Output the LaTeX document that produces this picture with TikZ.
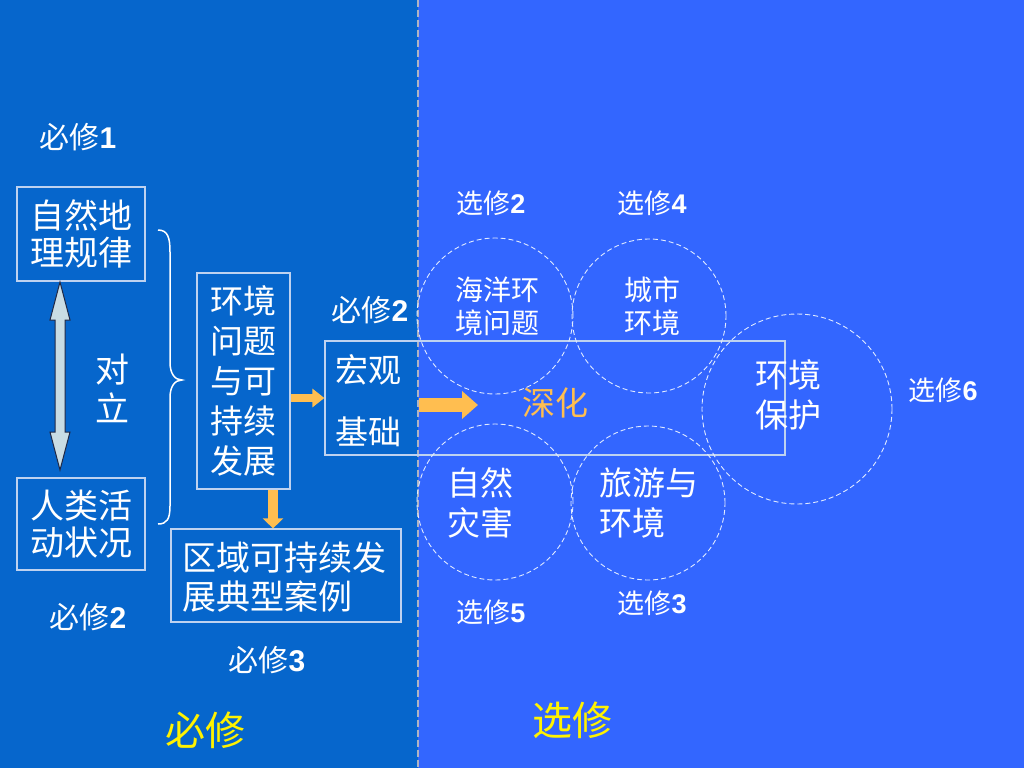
\documentclass[tikz,border=0pt]{standalone}
\usepackage{fontspec}
\setmainfont{Liberation Sans}
\newfontfamily\cjk{Noto Sans CJK SC}
\usetikzlibrary{arrows.meta,calc}
\definecolor{leftbg}{RGB}{6,102,204}
\definecolor{rightbg}{RGB}{51,102,255}
\definecolor{boxline}{RGB}{190,210,240}
\definecolor{circline}{RGB}{225,235,255}
\definecolor{vlinec}{RGB}{175,180,195}
\definecolor{orangec}{RGB}{255,190,80}
\definecolor{darrowfill}{RGB}{200,220,228}
\definecolor{darrowline}{RGB}{30,40,70}
\newcommand\xiulbl[2]{{\cjk #1}\textbf{#2}}
\begin{document}
\begin{tikzpicture}[x=1pt,y=-1pt,
  framebox/.style={draw=boxline, line width=1.2pt, inner sep=0pt, text=white, align=center},
  wtxt/.style={text=white, inner sep=0pt},
  big/.style={font=\fontsize{34}{37}\selectfont\cjk},
  lbl/.style={text=white, inner sep=0pt, font=\fontsize{30}{32}\selectfont},
  slbl/.style={text=white, inner sep=0pt, font=\fontsize{27}{30}\selectfont},
  ylbl/.style={text=yellow, inner sep=0pt, font=\fontsize{40}{42}\selectfont\cjk},
  dcirc/.style={draw=circline, dash pattern=on 5pt off 3pt, line width=0.9pt, circle, inner sep=0pt},
]
\useasboundingbox (0,0) rectangle (1024,768);
\fill[leftbg] (0,0) rectangle (418,768);
\fill[rightbg] (418,0) rectangle (1024,768);
\draw[vlinec, line width=2pt, dash pattern=on 7pt off 3pt] (418,0) -- (418,768);

% left boxes
\node[framebox, big, minimum width=128pt, minimum height=94pt] (A) at (81,234) {自然地\\理规律};
\node[framebox, big, minimum width=128pt, minimum height=92pt] (B) at (81,524) {人类活\\动状况};
\node[wtxt, big] (dui) at (112,370) {对};
\node[wtxt, big] (li) at (112,408) {立};

% double arrow
\coordinate (t1) at (60,282);
\coordinate (t2) at (60,470);
\draw[fill=darrowfill, draw=darrowline, line width=1pt]
  (t1) -- ++(10,38) -- ++(-5,0) -- ($(t2)+(5,-38)$) -- ++(5,0) -- (t2)
  -- ++(-10,-38) -- ++(5,0) -- ($(t1)+(-5,38)$) -- ++(-5,0) -- cycle;

% brace
\draw[white, line width=1.5pt] (158,230) .. controls (168,230) and (170,238) .. (170,252)
  -- (170,362) .. controls (170,374) and (175,380) .. (182,380)
  .. controls (175,380) and (170,386) .. (170,398)
  -- (170,506) .. controls (170,519) and (167,524) .. (158,524);

\node[framebox, font=\fontsize{33}{40}\selectfont\cjk, minimum width=93pt, minimum height=216pt] (C) at (243.5,381) {环境\\问题\\与可\\持续\\发展};
\node[framebox, minimum width=230pt, minimum height=93pt] (E) at (286,575.5) {};
\node[wtxt, font=\fontsize{34}{39}\selectfont\cjk, align=left, anchor=west] (Et) at (182,577.5) {区域可持续发\\展典型案例};

% box D across the divide
\node[framebox, minimum width=460pt, minimum height=114pt] (D) at (555,398) {};
\node[wtxt, font=\fontsize{33}{62}\selectfont\cjk, align=center] (Dt) at (368,401) {宏观\\基础};

% orange arrows
\draw[orangec, line width=8pt, -{Triangle[length=12pt,width=18pt]}] (C.east |- D.west) -- (D.west);
\coordinate (ax) at (273,0);
\draw[orangec, line width=10pt, -{Triangle[length=10pt,width=20pt]}] (C.south -| ax) -- (E.north -| ax);
\coordinate (bs) at (419,405);
\coordinate (be) at (478,405);
\draw[orangec, line width=14pt, -{Triangle[length=16pt,width=27pt]}] (bs) -- (be);
\node[inner sep=0pt, text=orangec, font=\fontsize{33}{37}\selectfont\cjk] (shen) at (555,403) {深化};

% circles
\node[dcirc, minimum size=156pt] (c1) at (495,316) {};
\node[dcirc, minimum size=154pt] (c2) at (649,316) {};
\node[dcirc, minimum size=190pt] (c3) at (797,409) {};
\node[dcirc, minimum size=156pt] (c4) at (495,502) {};
\node[dcirc, minimum size=154pt] (c5) at (648,503) {};

\node[wtxt, font=\fontsize{28}{33}\selectfont\cjk, align=center] (c1t) at (497,306) {海洋环\\境问题};
\node[wtxt, font=\fontsize{28}{33}\selectfont\cjk, align=center] (c2t) at (652,306) {城市\\环境};
\node[wtxt, font=\fontsize{33}{40}\selectfont\cjk, align=center] (c3t) at (788,395) {环境\\保护};
\node[wtxt, font=\fontsize{33}{40}\selectfont\cjk, align=center] (c4t) at (480,503) {自然\\灾害};
\node[wtxt, font=\fontsize{33}{40}\selectfont\cjk, align=left, anchor=west] (c5t) at (599,503) {旅游与\\环境};

% labels
\node[lbl] (l1) at (78,137) {\xiulbl{必修}{1}};
\node[lbl] (l2) at (88,617) {\xiulbl{必修}{2}};
\node[lbl] (l3) at (370,310) {\xiulbl{必修}{2}};
\node[lbl] (l4) at (267,660) {\xiulbl{必修}{3}};
\node[slbl] (s2) at (491,203) {\xiulbl{选修}{2}};
\node[slbl] (s4) at (652,203) {\xiulbl{选修}{4}};
\node[slbl] (s6) at (943,390) {\xiulbl{选修}{6}};
\node[slbl] (s5) at (491,612) {\xiulbl{选修}{5}};
\node[slbl] (s3) at (652,603) {\xiulbl{选修}{3}};
\node[ylbl] (y1) at (205,730) {必修};
\node[ylbl] (y2) at (572,720) {选修};
\end{tikzpicture}
\end{document}
